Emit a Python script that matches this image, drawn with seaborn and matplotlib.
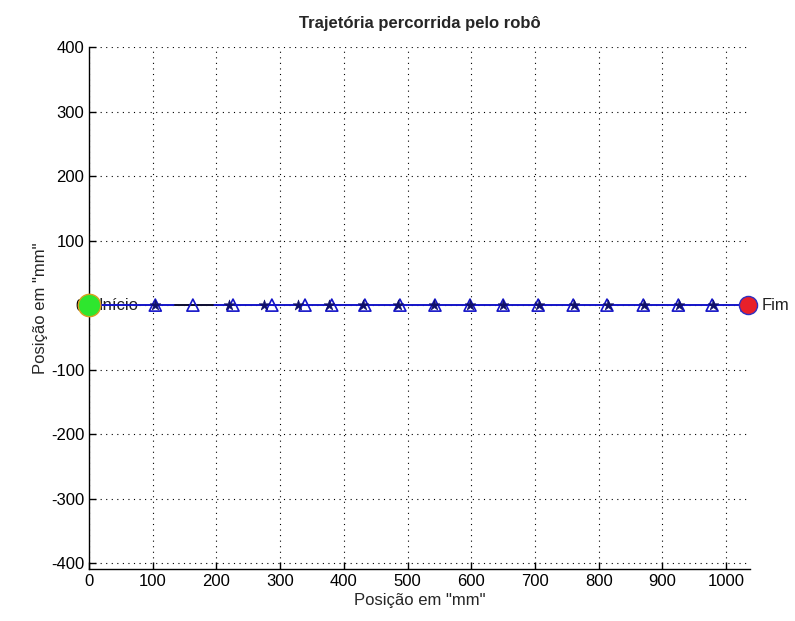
import numpy as np
import pandas as pd
import matplotlib
matplotlib.use('Agg')
import matplotlib.pyplot as plt
import seaborn as sns

# trajectory samples (mm)
traj_x = [0, 104, 163, 226, 287, 339, 381, 433, 488, 543, 598, 650, 705, 760, 813, 870, 925, 978, 1033]
traj_y = [0, 0, 0, 0, 0, 0, 0, 0, 0, 0, 0, 0, 0, 0, 0, 0, 0, 0, 0]

# triangle markers (reference points)
tri_x = [104, 163, 226, 287, 339, 381, 433, 488, 543, 598, 650, 705, 760, 813, 870, 925, 978, 1033]
tri_y = [0, 0, 0, 0, 0, 0, 0, 0, 0, 0, 0, 0, 0, 0, 0, 0, 0, 0]

# star markers (estimated positions)
star_x = [104, 220, 275, 328, 377, 430, 485, 542, 598, 650, 706, 761, 815, 871, 926, 979]
star_y = [0, 0, 0, 0, 0, 0, 0, 0, 0, 0, 0, 0, 0, 0, 0, 0]

# black segment
seg_x = [135, 195]
seg_y = [0, 0]

start_pt = (0, 0)
end_pt = (1035, 0)

x_ticks = list(range(0, 1001, 100))
y_ticks = list(range(-400, 401, 100))

sns.set_style('white')
plt.rcParams['font.family'] = ['Liberation Sans', 'DejaVu Sans']
plt.rcParams['axes.unicode_minus'] = False

fig = plt.figure(figsize=(7.95, 6.21), dpi=100)
ax = fig.add_axes([0.112, 0.083, 0.831, 0.841])

df_traj = pd.DataFrame({'x': traj_x, 'y': traj_y})
df_tri = pd.DataFrame({'x': tri_x, 'y': tri_y})
df_star = pd.DataFrame({'x': star_x, 'y': star_y})
df_seg = pd.DataFrame({'x': seg_x, 'y': seg_y})

sns.lineplot(data=df_traj, x='x', y='y', ax=ax, color='#1414c8', lw=1.4,
             sort=False, estimator=None, zorder=3)
sns.lineplot(data=df_seg, x='x', y='y', ax=ax, color='#101030', lw=1.4,
             sort=False, estimator=None, zorder=3)
sns.scatterplot(data=df_tri, x='x', y='y', ax=ax, marker='^', s=75,
                facecolor='none', edgecolor='#1414c8', linewidth=1.2, zorder=4)
sns.scatterplot(data=df_star, x='x', y='y', ax=ax, marker='*', s=65,
                color='#10106a', edgecolor='#10106a', linewidth=0.4, zorder=5)

ax.scatter([start_pt[0]], [start_pt[1]], s=260, color='#2ee62e',
           edgecolors='#d9a020', linewidths=1.0, zorder=6, clip_on=False)
ax.scatter([end_pt[0]], [end_pt[1]], s=170, color='#e8202a',
           edgecolors='#3030c0', linewidths=1.0, zorder=6, clip_on=False)
ax.text(start_pt[0] + 15, start_pt[1], 'Início', fontsize=12, va='center',
        ha='left', color='#222222', zorder=2)
ax.text(end_pt[0] + 20, end_pt[1], 'Fim', fontsize=12, va='center',
        ha='left', color='#222222', clip_on=False)

ax.set_xlim(0, 1037)
ax.set_ylim(-410, 400)
ax.set_xticks(x_ticks)
ax.set_yticks(y_ticks)
ax.grid(True, color='black', linestyle=(0, (1, 4)), linewidth=0.8)
ax.set_axisbelow(True)
for side in ['top', 'right']:
    ax.spines[side].set_visible(False)
for side in ['left', 'bottom']:
    ax.spines[side].set_color('black')
    ax.spines[side].set_linewidth(1.0)
ax.tick_params(direction='in', length=5, width=1, colors='black',
               labelsize=12, left=True, bottom=True)

ax.set_xlabel('Posição em "mm"', fontsize=12, labelpad=3)
ax.set_ylabel('Posição em "mm"', fontsize=12, labelpad=2)
ax.set_title('Trajetória percorrida pelo robô', fontsize=12,
             fontweight='bold', pad=14)

fig.savefig('out.png', dpi=100)
